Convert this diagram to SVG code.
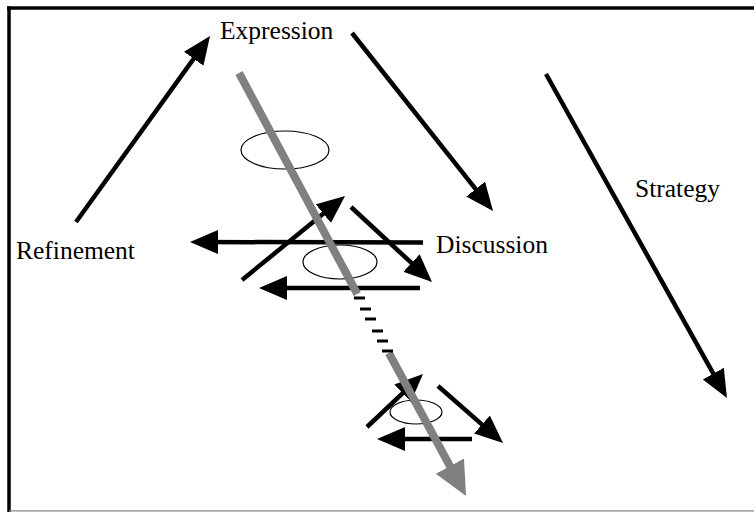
<svg xmlns="http://www.w3.org/2000/svg" width="754" height="512" viewBox="0 0 754 512">
<style>
.lbl{font-family:"Liberation Serif","DejaVu Serif","Times New Roman",serif;font-size:25.5px;fill:#000}
.arr{stroke:#000;stroke-width:4.5;fill:none;marker-end:url(#ah)}
.ell{fill:none;stroke:#000;stroke-width:1.2}
.dash{stroke:#000;stroke-width:3}
.gray{stroke:#808080;stroke-width:8;fill:none}
</style>
<defs>
<marker id="ah" markerUnits="userSpaceOnUse" markerWidth="32" markerHeight="26" refX="18" refY="12" orient="auto">
<path d="M0,0 L28,12 L0,24 z" fill="#000"/>
</marker>
<marker id="gh" markerUnits="userSpaceOnUse" markerWidth="38" markerHeight="36" refX="24" refY="16" orient="auto">
<path d="M0,0 L34,16 L0,32 z" fill="#808080"/>
</marker>
</defs>
<rect x="0" y="0" width="754" height="512" fill="#fff"/>
<g id="frame">
<line x1="7" y1="8" x2="754" y2="8" stroke="#000" stroke-width="3.5"/>
<line x1="9" y1="6.5" x2="9" y2="512" stroke="#000" stroke-width="3.5"/>
<line x1="9" y1="510.8" x2="754" y2="510.8" stroke="#888" stroke-width="1.2"/>
</g>
<g id="expression"><text class="lbl" font-family="Liberation Serif, serif" x="220" y="39">Expression</text></g>
<g id="refinement"><text class="lbl" font-family="Liberation Serif, serif" x="16" y="259">Refinement</text></g>
<g id="discussion"><text class="lbl" font-family="Liberation Serif, serif" x="436" y="253">Discussion</text></g>
<g id="strategy"><text class="lbl" font-family="Liberation Serif, serif" x="635" y="197">Strategy</text></g>
<g id="ellipses">
<ellipse class="ell" cx="285" cy="150" rx="44" ry="19"/>
<ellipse class="ell" cx="340" cy="262" rx="37" ry="17"/>
<ellipse class="ell" cx="416" cy="412" rx="26" ry="12"/>
</g>
<g id="connectors">
<line class="arr" x1="76" y1="222" x2="204.2" y2="44.1"/>
<line class="arr" x1="352" y1="33" x2="486.8" y2="203.2"/>
<line class="arr" x1="546" y1="74" x2="722.1" y2="389.3"/>
<line class="arr" x1="242" y1="280" x2="337.3" y2="202.3"/>
<line class="arr" x1="351" y1="207" x2="424.7" y2="275.2"/>
<line class="arr" x1="423" y1="242.5" x2="200" y2="242"/>
<line class="arr" x1="420" y1="288" x2="269" y2="288"/>
<line class="arr" x1="367" y1="427" x2="415.7" y2="380.9"/>
<line class="arr" x1="438" y1="386" x2="495.5" y2="436.4"/>
<line class="arr" x1="472" y1="439" x2="387" y2="439"/>
<line class="gray" x1="239" y1="73" x2="357.3" y2="294"/>
<line class="gray" x1="388.9" y1="353" x2="461.3" y2="487.2" marker-end="url(#gh)"/>
<line class="dash" x1="354" y1="298" x2="365" y2="298"/>
<line class="dash" x1="360" y1="309" x2="371" y2="309"/>
<line class="dash" x1="365" y1="319" x2="376" y2="319"/>
<line class="dash" x1="372" y1="331" x2="383" y2="331"/>
<line class="dash" x1="377" y1="341" x2="388" y2="341"/>
<line class="dash" x1="382" y1="351" x2="393" y2="351"/>
</g>
</svg>
